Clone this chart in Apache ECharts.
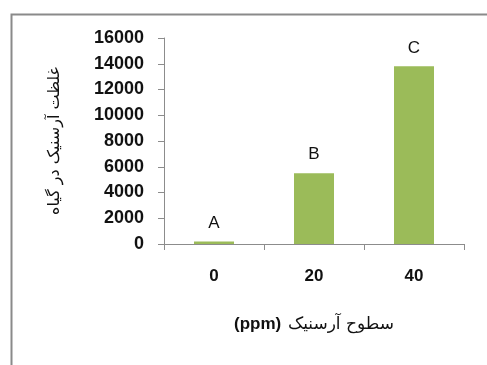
<!DOCTYPE html>
<html><head><meta charset="utf-8">
<script src="https://cdn.jsdelivr.net/npm/echarts@6/dist/echarts.min.js"></script>
<style>html,body{margin:0;padding:0;background:#fff}#c{width:487px;height:365px}</style>
</head><body><div id="c"></div>
<script>
const categories = ['0', '20', '40'];
const values = [200, 5500, 13800];
const letters = ['A', 'B', 'C'];
const yTicks = [0, 2000, 4000, 6000, 8000, 10000, 12000, 14000, 16000];
const xNameFa = 'سطوح آرسنیک';
const xNameUnit = '(ppm)';
const yName = 'غلظت آرسنیک در گیاه';

const chart = echarts.init(document.getElementById('c'), null, {renderer: 'canvas'});
const font = 'Liberation Sans';
chart.setOption({
  animation: false,
  backgroundColor: '#fff',
  graphic: [{
    type: 'rect', left: 9, top: 12,
    shape: {x: 0, y: 0, width: 520, height: 420},
    style: {fill: 'none', stroke: '#8a8a8a', lineWidth: 2},
    z: -10
  }],
  grid: {left: 164, right: 23, top: 38, bottom: 121},
  xAxis: {
    type: 'category',
    data: categories,
    axisLine: {lineStyle: {color: '#8c8c8c', width: 1}},
    axisTick: {show: true, length: 6, lineStyle: {color: '#8c8c8c'}},
    axisLabel: {margin: 24, fontSize: 17, fontWeight: 'bold', color: '#111', fontFamily: font},
    name: '{u|' + xNameUnit + '}  {f|' + xNameFa + '}',
    nameLocation: 'middle',
    nameGap: 72,
    nameTextStyle: {
      color: '#111',
      rich: {
        u: {fontSize: 17, fontWeight: 'bold', color: '#111', fontFamily: font},
        f: {fontSize: 17, color: '#111', fontFamily: 'DejaVu Sans'}
      }
    }
  },
  yAxis: {
    type: 'value',
    min: yTicks[0], max: yTicks[yTicks.length - 1], interval: 2000,
    splitLine: {show: false},
    axisLine: {show: true, lineStyle: {color: '#8c8c8c', width: 1}},
    axisTick: {show: true, length: 6, lineStyle: {color: '#8c8c8c'}},
    axisLabel: {margin: 20, fontSize: 18, fontWeight: 'bold', color: '#111', fontFamily: font,
      formatter: v => String(v)},
    name: yName,
    nameLocation: 'middle',
    nameGap: 101,
    nameTextStyle: {fontSize: 16, color: '#111', fontFamily: 'DejaVu Sans'}
  },
  series: [{
    type: 'bar',
    data: values,
    barWidth: '40%',
    itemStyle: {color: '#9BBB59'},
    label: {
      show: true, position: 'top', distance: 10,
      formatter: p => letters[p.dataIndex],
      fontSize: 17, color: '#111', fontFamily: font
    }
  }]
});
</script></body></html>
